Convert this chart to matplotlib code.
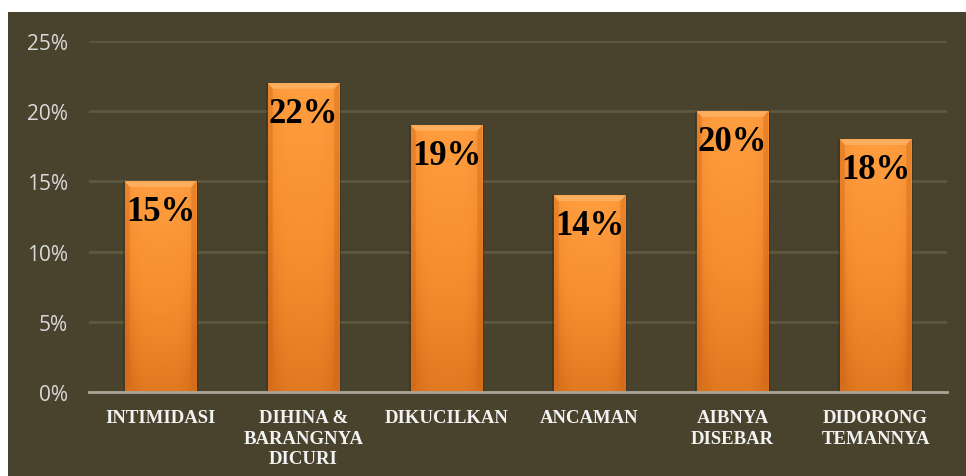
import numpy as np
import matplotlib
matplotlib.use("Agg")
import matplotlib.pyplot as plt
from matplotlib.colors import LinearSegmentedColormap
from matplotlib.patches import Rectangle, Polygon
from matplotlib.ticker import PercentFormatter

# data
categories = ["INTIMIDASI", "DIHINA &\nBARANGNYA\nDICURI", "DIKUCILKAN",
              "ANCAMAN", "AIBNYA\nDISEBAR", "DIDORONG\nTEMANNYA"]
values = [0.15, 0.22, 0.19, 0.14, 0.20, 0.18]
value_labels = ["15%", "22%", "19%", "14%", "20%", "18%"]

W, H = 966, 477
fig = plt.figure(figsize=(W / 100, H / 100), dpi=100)
fig.patch.set_facecolor("white")

# dark panel behind the chart
panel = Rectangle((8 / W, 0), 1 - 8 / W, (H - 13) / H, transform=fig.transFigure,
                  facecolor="#49432E", edgecolor="none", zorder=-5)
fig.patches.append(panel)

ax = fig.add_axes([89 / W, (H - 393) / H, (947 - 89) / W, (393 - 42) / H])
ax.set_facecolor("none")
ax.set_zorder(2)

x = np.arange(len(categories))
bw = 0.5

# soft shadow behind the bars
for xi, v in zip(x, values):
    ax.add_patch(Rectangle((xi - bw / 2 - 0.015, 0), bw + 0.03, v,
                           facecolor="#2E2A1C", alpha=0.45, edgecolor="none", zorder=2))

bars = ax.bar(x, values, width=bw, color="#F28A2E", edgecolor="none", zorder=3)

# gradient fill, bright top to darker bottom, darker on sides
grad = LinearSegmentedColormap.from_list("bar", ["#D9711C", "#F58D2F", "#FF9E3F"])
yy = np.linspace(0, 1, 100)[:, None]
xx = np.linspace(-1, 1, 40)[None, :]
img = yy * 0.85 + 0.15 - 0.35 * np.abs(xx) ** 4
for b in bars:
    x0, y0 = b.get_x(), b.get_y()
    w, h = b.get_width(), b.get_height()
    im = ax.imshow(img, extent=[x0, x0 + w, y0, y0 + h], origin="lower",
                   cmap=grad, vmin=0, vmax=1, aspect="auto", zorder=3.5)
    im.set_clip_path(b)
    # bevel along the top edge
    top = y0 + h
    d, dy = 0.035, 0.004
    ax.add_patch(Polygon([[x0, top], [x0 + w, top], [x0 + w - d, top - dy], [x0 + d, top - dy]],
                         closed=True, facecolor="#FFB466", edgecolor="none", alpha=0.8, zorder=4))
    ax.add_patch(Polygon([[x0, top], [x0 + d, top - dy], [x0 + d, 0.003], [x0, 0]],
                         closed=True, facecolor="#C9661A", edgecolor="none", alpha=0.35, zorder=4))
    ax.add_patch(Polygon([[x0 + w, top], [x0 + w - d, top - dy], [x0 + w - d, 0.003], [x0 + w, 0]],
                         closed=True, facecolor="#C9661A", edgecolor="none", alpha=0.35, zorder=4))

for xi, v, lab in zip(x, values, value_labels):
    ax.text(xi, v - 0.0215, lab, ha="center", va="center", fontsize=25,
            fontweight="bold", family="Liberation Serif", color="black", zorder=5)

ax.set_xlim(-0.5, len(categories) - 0.5)
ax.set_ylim(0, 0.25)
ax.set_yticks(np.arange(0, 0.26, 0.05))
ax.yaxis.set_major_formatter(PercentFormatter(1.0, decimals=0))
ax.grid(axis="y", color="#5E5840", linewidth=2, zorder=1)
ax.set_axisbelow(True)

for s in ["top", "right", "left"]:
    ax.spines[s].set_visible(False)
ax.spines["bottom"].set_color("#A8A595")
ax.spines["bottom"].set_linewidth(2)
ax.spines["bottom"].set_zorder(6)

ax.tick_params(axis="both", length=0)
ax.tick_params(axis="y", pad=15, labelcolor="#D9D9D9", labelsize=15)
for t in ax.get_yticklabels():
    t.set_family("Open Sans")

ax.set_xticks(x)
ax.set_xticklabels(categories, fontsize=13.5, fontweight="bold",
                   family="Liberation Serif", color="#F2F2F2", linespacing=1.3)
ax.tick_params(axis="x", pad=12)

fig.savefig("out.png", dpi=100, facecolor=fig.get_facecolor())
